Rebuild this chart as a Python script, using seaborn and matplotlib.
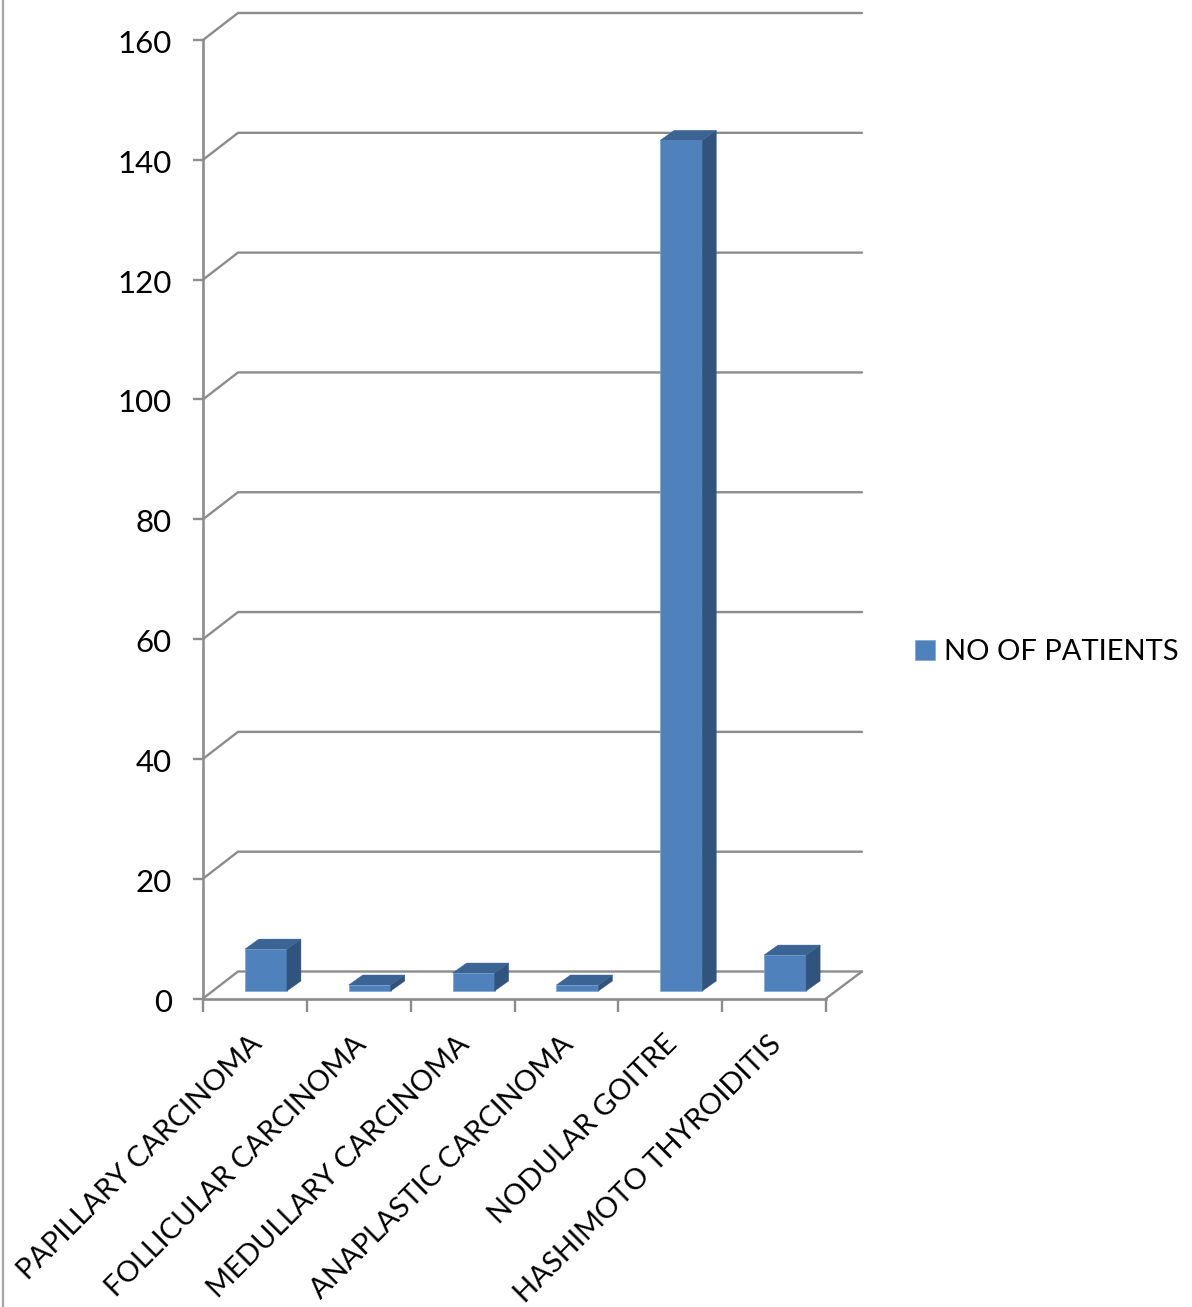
import matplotlib
matplotlib.use("Agg")
import matplotlib.pyplot as plt
from matplotlib.lines import Line2D
from matplotlib.patches import Polygon
from matplotlib.transforms import Affine2D, IdentityTransform
import numpy as np
import pandas as pd
import seaborn as sns

# Thyroid lesion counts
categories = [
    "PAPILLARY CARCINOMA",
    "FOLLICULAR CARCINOMA",
    "MEDULLARY CARCINOMA",
    "ANAPLASTIC CARCINOMA",
    "NODULAR GOITRE",
    "HASHIMOTO THYROIDITIS",
]
patients = [7, 1, 3, 1, 142, 6]
y_ticks = [0, 20, 40, 60, 80, 100, 120, 140, 160]
series_name = "NO OF PATIENTS"

W, H = 1192, 1307
GRID = "#8c8c8c"
FRONT, SIDE, TOP = "#4f81bd", "#31547f", "#3b6494"
LABEL_SIZE = 21
VALUE_SIZE = 22.5

sns.set_theme(style="white")
plt.rcParams["font.family"] = ["Lato", "DejaVu Sans"]

fig = plt.figure(figsize=(W / 100, H / 100), dpi=100)
ax = fig.add_axes([203 / W, 1 - 998.5 / H, 623 / W, 958.5 / H])
ax.patch.set_alpha(0)

df = pd.DataFrame({"category": categories, "patients": patients})
sns.barplot(data=df, x="category", y="patients", color=FRONT, saturation=1,
            width=0.405, ax=ax, zorder=3, label=series_name)
ax.set_xlim(-0.5, 5.5)
ax.set_ylim(0, 160)
ax.set_xlabel("")
ax.set_ylabel("")

# Pseudo-3D box: the bars stand mid-way into the floor and the wall sits behind it
BAR_SHIFT = (11, 7.5)
BAR_DEPTH = (14, 10)
WALL_DEPTH = (35, 27)
identity = IdentityTransform()
to_px = ax.transData.transform

for patch in list(ax.patches):
    x0, y0 = patch.get_x(), patch.get_y()
    w, h = patch.get_width(), patch.get_height()
    shift = np.array(BAR_SHIFT)
    depth = np.array(BAR_DEPTH)
    patch.set_transform(ax.transData + Affine2D().translate(*BAR_SHIFT))
    patch.set_clip_on(False)
    patch.set_edgecolor("#7fa6d4")
    patch.set_linewidth(0.5)
    bl = to_px((x0, y0)) + shift
    br = to_px((x0 + w, y0)) + shift
    tl = to_px((x0, y0 + h)) + shift
    tr = to_px((x0 + w, y0 + h)) + shift
    ax.add_patch(Polygon([br, tr, tr + depth, br + depth], closed=True,
                         facecolor=SIDE, edgecolor=SIDE, linewidth=0.3,
                         transform=identity, zorder=3, clip_on=False))
    ax.add_patch(Polygon([tl, tr, tr + depth, tl + depth], closed=True,
                         facecolor=TOP, edgecolor=TOP, linewidth=0.3,
                         transform=identity, zorder=3, clip_on=False))

# Wall gridlines: a diagonal off the axis, then across the back wall
for v in y_ticks:
    start = to_px((-0.5, v))
    corner = start + np.array(WALL_DEPTH)
    end = to_px((5.5, v)) + np.array((36, WALL_DEPTH[1]))
    pts = np.array([start, corner, end])
    ax.add_line(Line2D(pts[:, 0], pts[:, 1], color=GRID, lw=1.7, transform=identity,
                       zorder=1, clip_on=False, solid_joinstyle="miter"))

# Right edge of the floor
floor_a = to_px((5.5, 0))
floor_b = floor_a + np.array((36, WALL_DEPTH[1]))
ax.add_line(Line2D([floor_a[0], floor_b[0]], [floor_a[1], floor_b[1]], color=GRID, lw=1.7,
                   transform=identity, zorder=1, clip_on=False))

for side in ("top", "right"):
    ax.spines[side].set_visible(False)
for side in ("left", "bottom"):
    ax.spines[side].set_color(GRID)
    ax.spines[side].set_linewidth(1.9)
    ax.spines[side].set_zorder(2)

ax.set_yticks(y_ticks)
ax.tick_params(axis="y", which="major", left=True, length=7.5, width=1.7, color=GRID,
               pad=15, labelsize=VALUE_SIZE, labelcolor="black")
for label in ax.get_yticklabels():
    label.set_transform(label.get_transform() + Affine2D().translate(0, -1.5))

# Ticks fall between categories, labels sit at the category centres
ax.set_xticks(np.arange(len(categories)))
ax.set_xticks(np.arange(len(categories) + 1) - 0.5, minor=True)
ax.tick_params(axis="x", which="minor", bottom=True, length=9.5, width=1.7, color=GRID)
ax.tick_params(axis="x", which="major", bottom=False, length=0, pad=30,
               labelsize=LABEL_SIZE, labelcolor="black")
ax.set_xticklabels(categories, rotation=45, ha="right", rotation_mode="anchor", va="center")
for label in ax.get_xticklabels():
    label.set_transform(label.get_transform() + Affine2D().translate(3, 0))

ax.legend(loc="center left", bbox_to_anchor=(915 / W, 1 - 652 / H), bbox_transform=fig.transFigure,
          frameon=False, fontsize=LABEL_SIZE, handlelength=0.7, handleheight=0.7,
          handletextpad=0.3, borderpad=0, borderaxespad=0, labelcolor="black")

# Thin frame along the left edge of the figure
fig.add_artist(Line2D([3 / W, 3 / W], [0, 1], color="#a6a6a6", lw=1.6, transform=fig.transFigure))

fig.savefig("out.png", dpi=100, facecolor="white")
